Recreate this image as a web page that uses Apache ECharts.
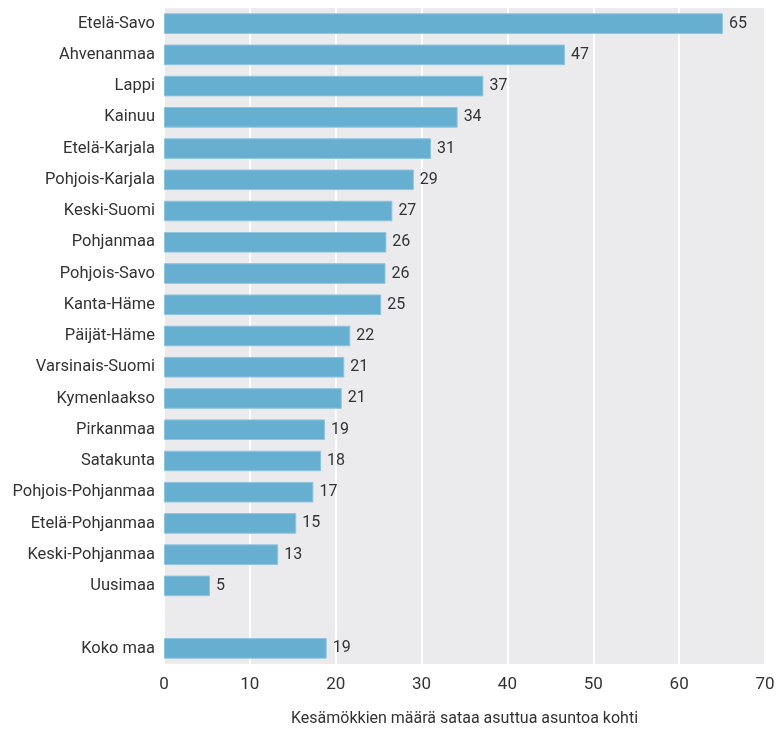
<!DOCTYPE html>
<html>
<head>
<meta charset="utf-8">
<script src="https://cdn.jsdelivr.net/npm/echarts@6/dist/echarts.min.js"></script>
<style>html,body{margin:0;padding:0;background:#fff}#c{width:783px;height:732px}</style>
</head>
<body>
<div id="c"></div>
<script>
var categories = ['Etelä-Savo','Ahvenanmaa','Lappi','Kainuu','Etelä-Karjala','Pohjois-Karjala','Keski-Suomi','Pohjanmaa','Pohjois-Savo','Kanta-Häme','Päijät-Häme','Varsinais-Suomi','Kymenlaakso','Pirkanmaa','Satakunta','Pohjois-Pohjanmaa','Etelä-Pohjanmaa','Keski-Pohjanmaa','Uusimaa','','Koko maa'];
var values = [65.1,46.7,37.2,34.2,31.1,29.1,26.6,25.9,25.8,25.3,21.7,21.0,20.7,18.75,18.3,17.4,15.4,13.3,5.36,null,18.95];
var valueLabels = ['65','47','37','34','31','29','27','26','26','25','22','21','21','19','18','17','15','13','5','','19'];
var xTicks = [0,10,20,30,40,50,60,70];
var axisTitle = 'Kesämökkien määrä sataa asuttua asuntoa kohti';

var FONT = '"Roboto", sans-serif';
var chart = echarts.init(document.getElementById('c'), null, {renderer:'canvas'});
chart.setOption({
  animation: false,
  backgroundColor: '#ffffff',
  grid: {left:164, right:18, top:8, bottom:66, show:true, backgroundColor:'#ebebee', borderWidth:0, containLabel:false},
  xAxis: {
    type:'value', min:xTicks[0], max:xTicks[xTicks.length-1], interval:10,
    axisLine:{show:false}, axisTick:{show:false},
    splitLine:{show:true, lineStyle:{color:'#ffffff', width:2}},
    axisLabel:{color:'#333', fontSize:17, fontFamily:FONT, margin:12, showMinLabel:true, showMaxLabel:true},
    name: axisTitle, nameLocation:'middle', nameGap:47,
    nameTextStyle:{color:'#333', fontSize:16, fontFamily:FONT}
  },
  yAxis: {
    type:'category', data:categories, inverse:true,
    axisLine:{show:false}, axisTick:{show:false}, splitLine:{show:false},
    axisLabel:{color:'#333', fontSize:16.5, fontFamily:FONT, margin:9}
  },
  series: [{
    type:'bar', data:values, barCategoryGap:'34%',
    itemStyle:{color:'#67afd0', borderColor:'#8fc4de', borderWidth:1},
    label:{show:true, position:'right', distance:6, color:'#333', fontSize:16, fontFamily:FONT,
      formatter:function(p){return valueLabels[p.dataIndex];}}
  }]
});
</script>
</body>
</html>
